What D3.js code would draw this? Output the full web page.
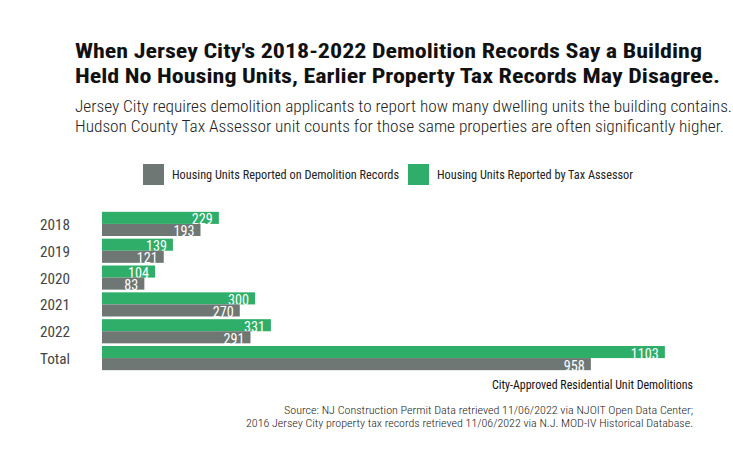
<!DOCTYPE html>
<html>
<head>
<meta charset="utf-8">
<script src="https://cdn.jsdelivr.net/npm/d3@7"></script>
<style>
  body { margin: 0; background: #fff; }
  text { font-family: "Roboto Condensed", Roboto, sans-serif; }
</style>
</head>
<body>
<svg width="733" height="470"></svg>
<script>
// data
var years = ["2018", "2019", "2020", "2021", "2022", "Total"];
var demoUnits = [193, 121, 83, 270, 291, 958];
var taxUnits = [229, 139, 104, 300, 331, 1103];
var seriesNames = ["Housing Units Reported on Demolition Records", "Housing Units Reported by Tax Assessor"];
var seriesColors = ["#6f7774", "#2fae6a"];

var svg = d3.select("svg"),
  width = +svg.attr("width"),
  height = +svg.attr("height");

var rows = years.map(function (y, i) {
  return {year: y, demo: demoUnits[i], tax: taxUnits[i]};
});

// squeeze text to the reference width (no condensed font available)
function fit(sel, w) {
  sel.attr("textLength", w).attr("lengthAdjust", "spacingAndGlyphs");
}

// title + subtitle
var titleLines = [
  "When Jersey City's 2018-2022 Demolition Records Say a Building",
  "Held No Housing Units, Earlier Property Tax Records May Disagree."
];
var titleW = [627, 645];
titleLines.forEach(function (t, i) {
  svg.append("text")
    .attr("x", 75).attr("y", 58 + i * 25)
    .attr("font-size", 21).attr("font-weight", 700).attr("fill", "#111")
    .text(t).call(fit, titleW[i]);
});

var subLines = [
  "Jersey City requires demolition applicants to report how many dwelling units the building contains.",
  "Hudson County Tax Assessor unit counts for those same properties are often significantly higher."
];
var subW = [657, 649];
subLines.forEach(function (t, i) {
  svg.append("text")
    .attr("x", 75).attr("y", 112 + i * 20)
    .attr("font-size", 16).attr("font-weight", 300).attr("fill", "#222")
    .text(t).call(fit, subW[i]);
});

// legend
var legendX = [143, 408], legendW = [227, 196];
seriesNames.forEach(function (n, i) {
  svg.append("rect")
    .attr("x", legendX[i]).attr("y", 164)
    .attr("width", 21).attr("height", 21)
    .attr("fill", seriesColors[i]);
  svg.append("text")
    .attr("x", legendX[i] + 29).attr("y", 179)
    .attr("font-size", 12).attr("fill", "#222")
    .text(n).call(fit, legendW[i]);
});

// scales
var x = d3.scaleLinear()
  .domain([0, d3.max(taxUnits) * 1.05])
  .range([102, 693]);

var y = d3.scaleBand()
  .domain(years)
  .range([210.5, 371.5])
  .paddingInner(0.1)
  .paddingOuter(0.05);

var sub = d3.scaleBand()
  .domain(["tax", "demo"])
  .range([0, y.bandwidth()]);

var g = svg.append("g");

var grp = g.selectAll("g.row")
  .data(rows)
  .enter().append("g")
  .attr("class", "row")
  .attr("transform", function (d) { return "translate(0," + y(d.year) + ")"; });

["tax", "demo"].forEach(function (k) {
  var col = k == "tax" ? seriesColors[1] : seriesColors[0];
  grp.append("rect")
    .attr("x", x(0))
    .attr("y", sub(k))
    .attr("width", function (d) { return x(d[k]) - x(0); })
    .attr("height", sub.bandwidth())
    .attr("fill", col);
  grp.append("text")
    .attr("x", function (d) { return x(d[k]) - 6; })
    .attr("y", sub(k) + sub.bandwidth() + 0.5)
    .attr("text-anchor", "end")
    .attr("font-size", 14.5).attr("fill", "#fff")
    .text(function (d) { return d[k]; })
    .each(function (d) {
      d3.select(this).call(fit, String(d[k]).length * 7);
    });
});

// category labels
grp.append("text")
  .attr("x", 40)
  .attr("y", y.bandwidth() / 2 + 6)
  .attr("font-size", 15).attr("fill", "#444")
  .text(function (d) { return d.year; })
  .call(fit, 30);

// axis title and source
svg.append("text")
  .attr("x", 693).attr("y", 389)
  .attr("text-anchor", "end")
  .attr("font-size", 12).attr("fill", "#111")
  .text("City-Approved Residential Unit Demolitions").call(fit, 201);

var srcLines = [
  "Source: NJ Construction Permit Data retrieved 11/06/2022 via NJOIT Open Data Center;",
  "2016 Jersey City property tax records retrieved 11/06/2022 via N.J. MOD-IV Historical Database."
];
var srcW = [409, 447];
srcLines.forEach(function (t, i) {
  svg.append("text")
    .attr("x", 693).attr("y", 414 + i * 13)
    .attr("text-anchor", "end")
    .attr("font-size", 11).attr("font-weight", 300).attr("fill", "#222")
    .text(t).call(fit, srcW[i]);
});
</script>
</body>
</html>
